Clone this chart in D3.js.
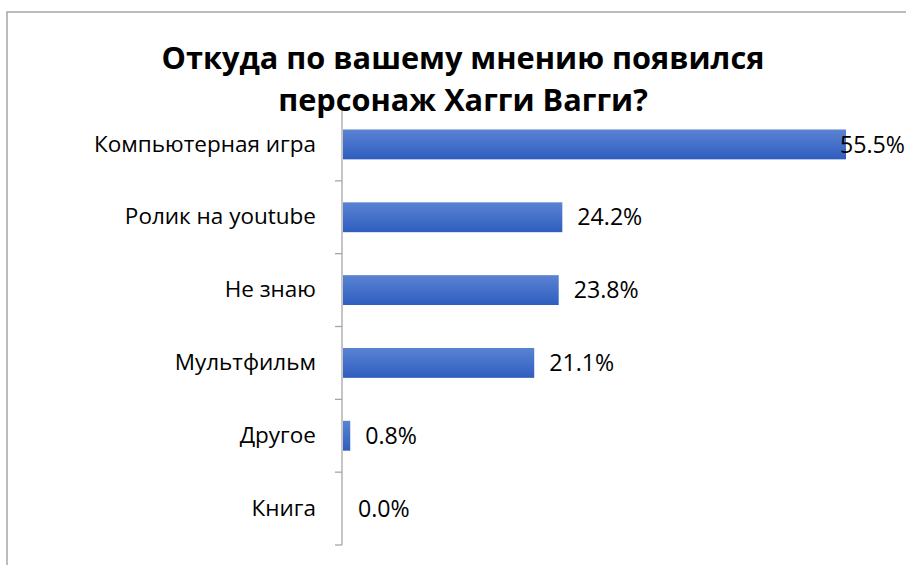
<!DOCTYPE html>
<html><head><meta charset="utf-8">
<script src="https://cdn.jsdelivr.net/npm/d3@7"></script>
<style>body{margin:0;background:#fff}svg{display:block}</style>
</head><body>
<script>
const categories = ["Компьютерная игра","Ролик на youtube","Не знаю","Мультфильм","Другое","Книга"];
const values = [55.5,24.2,23.8,21.1,0.8,0.0];
const titleLines = ["Откуда по вашему мнению появился","персонаж Хагги Вагги?"];

const W=907,H=565;
const svg=d3.select("body").append("svg").attr("width",W).attr("height",H);
const defs=svg.append("defs");
const g=defs.append("linearGradient").attr("id","bg").attr("x1",0).attr("y1",0).attr("x2",0).attr("y2",1);
g.append("stop").attr("offset","0%").attr("stop-color","#5b83d3");
g.append("stop").attr("offset","100%").attr("stop-color","#2e5ebf");

svg.append("path").attr("d",`M7,${H} L7,12 L906,12`).attr("fill","none").attr("stroke","#a6a6a6").attr("stroke-width",1.5);

const x0=342, y0=108, y1=545;
const x=d3.scaleLinear().domain([0,55.5]).range([x0,845]);
const y=d3.scaleBand().domain(categories).range([y0,y1]).paddingInner(0.59).paddingOuter(0.295);

function fit(sel, target){
  const n=sel.node(); const fs=parseFloat(n.getAttribute("font-size"));
  const w=n.getComputedTextLength(); const nf=fs*target/w;
  sel.attr("font-size",nf); return nf;
}

const ax=svg.append("g").attr("transform",`translate(${x0},0)`)
  .call(d3.axisLeft(y).tickSize(0).tickPadding(26));
ax.select(".domain").remove();
ax.selectAll("text").attr("font-family","Open Sans").attr("font-size",18).attr("fill","#000");
fit(ax.selectAll("text"),222);

svg.append("line").attr("x1",x0).attr("x2",x0).attr("y1",y0).attr("y2",y1).attr("stroke","#a6a6a6").attr("stroke-width",1.3);
d3.range(1,categories.length+1).forEach(i=>{
  const ty=y0+i*(y1-y0)/categories.length;
  svg.append("line").attr("x1",x0-7).attr("x2",x0).attr("y1",ty).attr("y2",ty).attr("stroke","#a6a6a6").attr("stroke-width",1.3);
});

svg.selectAll("rect.bar").data(values).join("rect").attr("class","bar")
  .attr("x",x0+1).attr("y",(d,i)=>y(categories[i]))
  .attr("width",d=>Math.max(0,x(d)-x0)).attr("height",y.bandwidth())
  .attr("fill","url(#bg)");

const lbl=svg.selectAll("text.lbl").data(values).join("text").attr("class","lbl")
  .attr("y",(d,i)=>y(categories[i])+y.bandwidth()/2)
  .attr("dy","0.35em")
  .attr("font-family","Open Sans").attr("font-size",18).attr("fill","#000")
  .text(d=>d.toFixed(1)+"%");
lbl.filter((d,i)=>i===1).call(s=>{ const nf=fit(s,65); lbl.attr("font-size",nf); });
lbl.attr("x",d=>Math.min(x(d)+16,840));

const tt=svg.selectAll("text.title").data(titleLines).join("text").attr("class","title")
  .attr("x",463).attr("y",(d,i)=>69+i*42)
  .attr("text-anchor","middle").attr("font-family","Open Sans").attr("font-weight","bold")
  .attr("font-size",28).attr("fill","#000").text(d=>d);
tt.filter((d,i)=>i===0).call(s=>{ const nf=fit(s,603); tt.attr("font-size",nf); });
</script>
</body></html>
